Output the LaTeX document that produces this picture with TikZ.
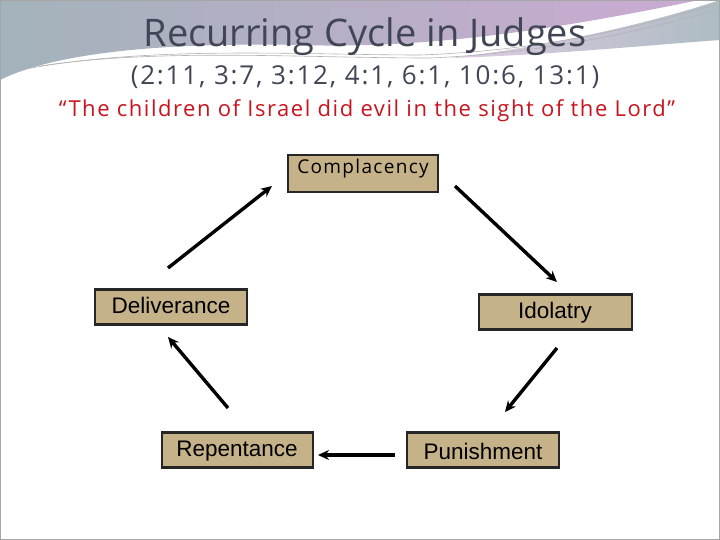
\documentclass[tikz,border=0pt]{standalone}
\usepackage{fontspec}
\setmainfont{Open Sans}
\newfontfamily\spacedf[LetterSpace=7]{Open Sans}
\newfontfamily\arialf{Liberation Sans}
\usetikzlibrary{arrows.meta}
\definecolor{tan}{RGB}{198,178,136}
\definecolor{ttl}{RGB}{64,70,84}
\definecolor{qred}{RGB}{200,20,30}
\definecolor{swA}{RGB}{140,160,170}
\definecolor{swB}{RGB}{190,150,200}
\begin{document}
\begin{tikzpicture}[x=1pt,y=-1pt,
  box/.style={draw=black!85,line width=2.4pt,fill=tan,minimum width=150pt,minimum height=35pt,inner sep=0pt},
  lbl/.style={font=\arialf\fontsize{22.5}{22.5}\selectfont},
  arr/.style={line width=3.4pt,-{Stealth[length=11pt,width=10pt]}}]
\useasboundingbox (0,0) rectangle (720,540);
\fill[white] (0,0) rectangle (720,540);
% top swoosh
\shade[left color=swA,right color=swB,opacity=0.8] (0,0) -- (700,0) .. controls (600,20) and (450,50) .. (300,45) .. controls (150,42) and (50,55) .. (0,80) -- cycle;
\fill[white] (0,85) .. controls (80,55) and (200,52) .. (330,58) .. controls (480,62) and (620,30) .. (720,5) -- (720,0) -- (700,0) .. controls (600,22) and (460,48) .. (330,50) .. controls (180,50) and (60,62) .. (0,86) -- cycle;
\shade[left color=swB!70,right color=swA,opacity=0.7] (720,0) -- (720,40) .. controls (650,45) and (550,55) .. (450,58) .. controls (560,45) and (660,20) .. (720,0);
\draw[gray!60,line width=0.6pt] (20,70) .. controls (150,45) and (300,55) .. (420,55) .. controls (560,50) and (660,20) .. (715,5);
\draw[gray!60,line width=0.6pt] (40,66) .. controls (160,48) and (300,58) .. (430,58) .. controls (570,52) and (670,22) .. (718,10);
\draw[gray!70,line width=0.8pt] (0.5,0.5) rectangle (719.5,539.5);
% titles
\node (t) at (365,37) {\color{ttl}\fontsize{38}{38}\selectfont Recurring Cycle in Judges};
\node (s) at (365,77) {\color{ttl}\spacedf\fontsize{26}{26}\selectfont (2:11, 3:7, 3:12, 4:1, 6:1, 10:6, 13:1)};
\node (q) at (367,111) {\color{qred}\spacedf\fontsize{22}{22}\selectfont “The children of Israel did evil in the sight of the Lord”};
% boxes
\node[box,minimum height=37pt] (c) at (363,173.5) {};
\node[font=\spacedf\fontsize{19}{19}\selectfont] at (363,169) {Complacency};
\node[box,minimum width=152pt] (d) at (171,307) {};
\node[lbl] at (171,305) {Deliverance};
\node[box,minimum width=153pt] (i) at (555.5,312) {};
\node[lbl] at (555,313) {Idolatry};
\node[box,minimum width=151pt] (r) at (237.5,450) {};
\node[lbl] at (237,451) {Repentance};
\node[box,minimum width=152pt] (p) at (483,450) {};
\node[lbl] at (483,451) {Punishment};
% connectors
\coordinate (a1) at (168,268); \coordinate (b1) at (272,186);
\coordinate (a2) at (455,186); \coordinate (b2) at (557,282);
\coordinate (a3) at (557,348); \coordinate (b3) at (505,412);
\coordinate (a4) at (395,455); \coordinate (b4) at (318,455);
\coordinate (a5) at (228,408); \coordinate (b5) at (168,337);
\draw[arr] (a1) -- (b1);
\draw[arr] (a2) -- (b2);
\draw[arr] (a3) -- (b3);
\draw[arr] (a4) -- (b4);
\draw[arr] (a5) -- (b5);
\end{tikzpicture}
\end{document}
